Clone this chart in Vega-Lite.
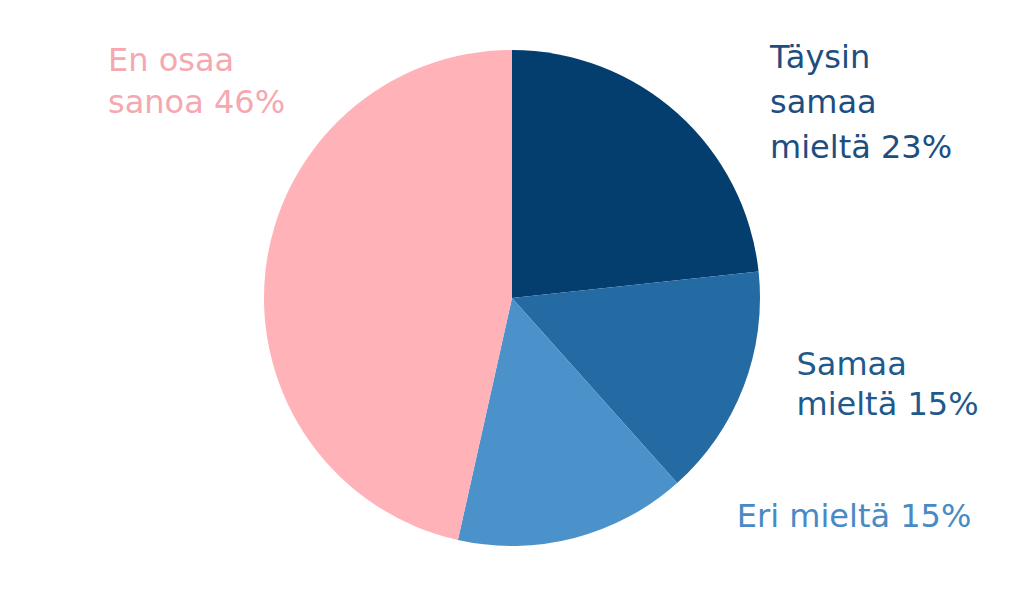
{
  "$schema": "https://vega.github.io/schema/vega-lite/v6.json",
  "width": 1024,
  "height": 596,
  "autosize": "none",
  "padding": 0,
  "background": "#ffffff",
  "view": {"stroke": null},
  "config": {"font": "DejaVu Sans"},
  "data": {
    "values": [
      {"cat": "Täysin samaa mieltä", "value": 23.3, "ord": 1, "label": ["Täysin", "samaa", "mieltä 23%"]},
      {"cat": "Samaa mieltä", "value": 15.1, "ord": 2, "label": ["Samaa", "mieltä 15%"]},
      {"cat": "Eri mieltä", "value": 15.1, "ord": 3, "label": ["Eri mieltä 15%"]},
      {"cat": "En osaa sanoa", "value": 46.5, "ord": 4, "label": ["En osaa", "sanoa 46%"]}
    ]
  },
  "transform": [
    {"stack": "value", "groupby": [], "sort": [{"field": "ord", "order": "ascending"}], "as": ["v0", "v1"]}
  ],
  "layer": [
    {
      "mark": {"type": "arc", "radius": 248},
      "encoding": {
        "theta": {"field": "v0", "type": "quantitative", "stack": null, "scale": {"domain": [0, 100]}},
        "theta2": {"field": "v1"},
        "color": {
          "field": "cat",
          "type": "nominal",
          "scale": {
            "domain": ["Täysin samaa mieltä", "Samaa mieltä", "Eri mieltä", "En osaa sanoa"],
            "range": ["#033e6e", "#246aa3", "#4b92cb", "#ffb3b8"]
          },
          "legend": null
        }
      }
    },
    {
      "transform": [{"filter": "datum.ord === 1"}],
      "mark": {"type": "text", "radius": 270, "dx": 258, "dy": 40, "align": "left", "baseline": "alphabetic", "fontSize": 32, "lineHeight": 45, "color": "#1d4e7f"},
      "encoding": {
        "theta": {"field": "v0", "type": "quantitative", "stack": null},
        "text": {"field": "label"}
      }
    },
    {
      "transform": [{"filter": "datum.ord === 2"}],
      "mark": {"type": "text", "radius": 270, "dx": 16, "dy": 106, "align": "left", "baseline": "alphabetic", "fontSize": 32, "lineHeight": 40, "color": "#1f5a8c"},
      "encoding": {
        "theta": {"field": "v0", "type": "quantitative", "stack": null},
        "text": {"field": "label"}
      }
    },
    {
      "transform": [{"filter": "datum.ord === 3"}],
      "mark": {"type": "text", "radius": 270, "dx": 45, "dy": 28, "align": "left", "baseline": "alphabetic", "fontSize": 32, "lineHeight": 42, "color": "#4a8ac4"},
      "encoding": {
        "theta": {"field": "v0", "type": "quantitative", "stack": null},
        "text": {"field": "label"}
      }
    },
    {
      "transform": [{"filter": "datum.ord === 4"}],
      "mark": {"type": "text", "radius": 270, "dx": -404, "dy": 43, "align": "left", "baseline": "alphabetic", "fontSize": 32, "lineHeight": 42, "color": "#f5a8b0"},
      "encoding": {
        "theta": {"field": "v1", "type": "quantitative", "stack": null},
        "text": {"field": "label"}
      }
    }
  ]
}
